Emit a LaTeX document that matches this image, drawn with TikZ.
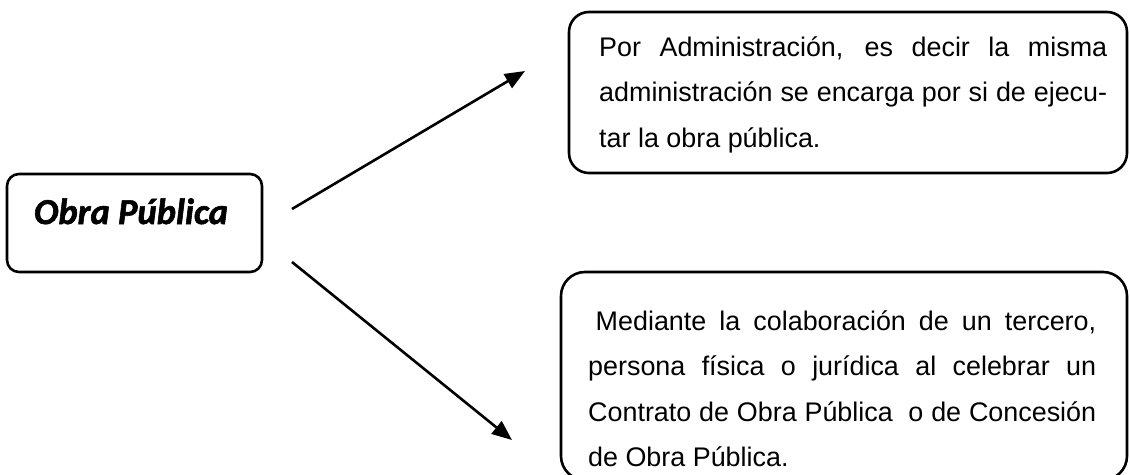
\documentclass[tikz,border=0pt]{standalone}
\usepackage{fontspec}
\setmainfont{Liberation Sans}
\newfontfamily\obrafont{Carlito Bold Italic}[FakeBold=1.6]
\usetikzlibrary{arrows.meta}
\newcommand\paraset{\hyphenpenalty=10000 \tolerance=9999 \emergencystretch=20pt\relax}
\begin{document}
\begin{tikzpicture}[x=1pt,y=-1pt,
  box/.style={draw=black, line width=2.6pt, rounded corners=#1, inner sep=0pt},
  para/.style={inner sep=0pt, text width=508pt, align=justify, anchor=base west,
    font=\fontsize{26.9pt}{45.5pt}\selectfont\paraset},
  arr/.style={line width=2.6pt, -{Triangle[length=20pt,width=16pt]}}]
\useasboundingbox (0,0) rectangle (1130,474);
% boxes
\node[box=12pt, minimum width=255pt, minimum height=98pt] (obrabox) at (134.5,223) {};
\node[box=20pt, minimum width=558pt, minimum height=161pt] (admbox) at (848,92.5) {};
\node[box=24pt, minimum width=566pt, minimum height=208pt] (terbox) at (844,376) {};
% texts
\node[anchor=base, inner sep=0pt, font=\obrafont\fontsize{36.5pt}{40pt}\selectfont] (obra) at (131,224) {Obra Pública};
\node[para] (adm) at (599,56) {Por Administración, es decir la misma\linebreak administración se encarga por si de ejecu-\linebreak tar la obra pública.};
\node[para] (ter) at (588,330) {\hspace*{0.28em}Mediante la colaboración de un tercero,\linebreak persona física o jurídica al celebrar un\linebreak Contrato de Obra Pública\ \ o de Concesión\linebreak de Obra Pública.};
% connectors
\coordinate (s1) at (292,209);
\coordinate (e1) at (525,71);
\coordinate (s2) at (292,262);
\coordinate (e2) at (512,440);
\draw[arr] (s1) -- (e1);
\draw[arr] (s2) -- (e2);
\end{tikzpicture}
\end{document}
